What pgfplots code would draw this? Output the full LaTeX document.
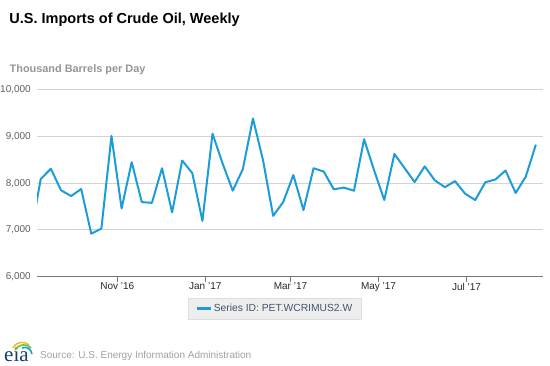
\documentclass[border=0pt]{standalone}
\usepackage{pgfplots}
\pgfplotsset{compat=1.18}
\usepackage{fontspec}
\setmainfont{Liberation Sans}
\newfontfamily\seriffont{Liberation Serif}
\definecolor{eiablue}{RGB}{28,156,216}
\definecolor{gridc}{RGB}{212,212,212}
\definecolor{axisc}{RGB}{120,120,120}
\definecolor{ylab}{RGB}{96,96,96}
\definecolor{xlab}{RGB}{40,40,40}
\definecolor{subc}{RGB}{150,150,150}
\definecolor{srcc}{RGB}{160,160,160}
\definecolor{legfill}{RGB}{238,238,238}
\definecolor{legdraw}{RGB}{222,222,222}
\definecolor{legtext}{RGB}{62,87,111}
\definecolor{logoblue}{RGB}{20,60,110}
\definecolor{logoyellow}{RGB}{240,190,40}
\definecolor{logogreen}{RGB}{120,190,60}

\pgfplotstableread{
day value
-60 6900
-53 8090
-46 8310
-39 7850
-32 7725
-25 7875
-18 6920
-11 7030
-4 9010
3 7460
10 8450
17 7595
24 7580
31 8320
38 7375
45 8485
52 8215
59 7195
66 9060
73 8420
80 7840
87 8300
94 9385
101 8490
108 7300
115 7600
122 8175
129 7425
136 8320
143 8250
150 7870
157 7905
164 7840
171 8940
178 8270
185 7640
192 8625
199 8325
206 8025
213 8360
220 8060
227 7915
234 8045
241 7775
248 7640
255 8020
262 8080
269 8272
276 7790
283 8140
290 8825
}\imports

\begin{document}
\begin{tikzpicture}
\path[use as bounding box] (0bp,0bp) rectangle (550bp,366bp);
\begin{axis}[
  at={(37bp,89.3bp)}, anchor=south west,
  scale only axis, width=505.5bp, height=187bp,
  xmin=-55.6, xmax=294.6, ymin=6000, ymax=10000,
  axis x line*=bottom, axis y line*=left,
  x axis line style={draw=axisc, line width=1.3bp},
  y axis line style={draw=none},
  xtick={0,61,120,181,242},
  xticklabels={Nov '16,Jan '17,Mar '17,May '17,Jul '17},
  xtick align=outside,
  major x tick style={draw=axisc, line width=1bp},
  major tick length=5bp,
  ytick={6000,7000,8000,9000,10000},
  scaled y ticks=false,
  major y tick style={draw=none},
  ymajorgrids, grid style={draw=gridc, line width=1bp},
  /pgf/number format/assume math mode=true,
  /pgf/number format/fixed,
  /pgf/number format/1000 sep={,},
  yticklabel style={font=\fontsize{10bp}{12bp}\selectfont, text=ylab, anchor=east, inner sep=0pt, xshift=-6bp},
  xticklabel style={font=\fontsize{10bp}{12bp}\selectfont, text=xlab, anchor=north, inner sep=0pt, yshift=-1bp},
  legend style={at={(0.4704,-0.169)}, anchor=center, fill=legfill, draw=legdraw,
    font=\fontsize{10.3bp}{12bp}\selectfont, text=legtext, inner xsep=7bp, inner ysep=4bp},
  legend image code/.code={\draw[#1, line width=2.5bp] (0bp,0bp) -- (14bp,0bp);},
  clip=true,
]
\addplot[eiablue, line width=2bp, line join=round] table[x=day, y=value] {\imports};
\addlegendentry{Series ID: PET.WCRIMUS2.W}
\end{axis}
% Title and subtitle
\node[anchor=base west, inner sep=0pt, font=\fontsize{14.5bp}{17bp}\selectfont\bfseries] at (9.3bp,342bp) {U.S. Imports of Crude Oil, Weekly};
\node[anchor=base west, inner sep=0pt, text=subc, font=\fontsize{10.9bp}{13bp}\selectfont\bfseries] at (9.5bp,293bp) {Thousand Barrels per Day};
% Source
\node[anchor=base west, inner sep=0pt, text=srcc, font=\fontsize{10bp}{12bp}\selectfont] at (40bp,7.7bp) {Source: U.S. Energy Information Administration};
% eia logo
\node[anchor=base west, inner sep=0pt, text=logoblue, font=\fontsize{21bp}{22bp}\seriffont] at (4bp,5bp) {eia};
\draw[logoyellow, line width=1.6bp] (13bp,18bp) .. controls (17bp,25bp) and (24bp,25bp) .. (29bp,21bp);
\draw[logogreen, line width=1.6bp] (15bp,16bp) .. controls (19bp,22bp) and (26bp,23bp) .. (31bp,18bp);
\draw[eiablue, line width=1.6bp] (22bp,18bp) .. controls (27bp,20bp) and (31bp,17bp) .. (32bp,12bp);
\end{tikzpicture}
\end{document}
